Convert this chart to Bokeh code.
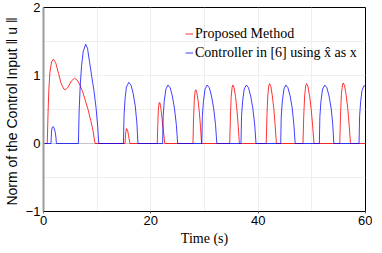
from bokeh.plotting import figure
from bokeh.models import Range1d, FixedTicker, Legend, LegendItem, Span
from bokeh.embed import file_html
from bokeh.resources import INLINE

# ---- data ----
red_t = [0.0, 0.7, 0.85, 1.0, 1.2, 1.5, 1.85, 2.3, 2.8, 3.3, 3.8, 4.1, 4.6, 5.2, 5.8,
         6.3, 6.8, 7.3, 7.8, 8.3, 8.8, 9.2, 9.6,
         15.2, 15.3, 15.45, 15.65, 15.85, 16.1,
         21.2, 21.3, 21.4, 21.55, 21.7, 21.9, 22.1, 22.35, 22.6,
         27.85, 27.96, 28.09, 28.25, 28.38, 28.57, 28.81, 29.05, 29.26, 29.45,
         34.7, 34.83, 34.97, 35.15, 35.29, 35.51, 35.78, 36.05, 36.28, 36.5,
         41.5, 41.63, 41.79, 41.98, 42.13, 42.36, 42.64, 42.93, 43.17, 43.4,
         48.35, 48.49, 48.66, 48.86, 49.03, 49.27, 49.58, 49.89, 50.15, 50.4,
         55.2, 55.34, 55.5, 55.7, 55.86, 56.1, 56.4, 56.7, 56.96, 57.2,
         60.0]
red_u = [0.0, 0.0, 0.45, 0.8, 1.05, 1.2, 1.24, 1.18, 1.03, 0.88, 0.8, 0.79, 0.83, 0.92, 0.96,
         0.93, 0.86, 0.76, 0.63, 0.5, 0.34, 0.2, 0.0,
         0.0, 0.14, 0.22, 0.2, 0.12, 0.0,
         0.0, 0.28, 0.5, 0.6, 0.6, 0.5, 0.36, 0.18, 0.0,
         0.0, 0.36, 0.63, 0.77, 0.79, 0.75, 0.63, 0.45, 0.24, 0.0,
         0.0, 0.39, 0.69, 0.83, 0.86, 0.82, 0.69, 0.49, 0.26, 0.0,
         0.0, 0.4, 0.7, 0.85, 0.88, 0.84, 0.7, 0.5, 0.26, 0.0,
         0.0, 0.4, 0.7, 0.85, 0.88, 0.84, 0.7, 0.5, 0.26, 0.0,
         0.0, 0.4, 0.71, 0.86, 0.89, 0.85, 0.71, 0.51, 0.27, 0.0,
         0.0]

blue_t = [0.0,
          1.4, 1.45, 1.5, 1.6, 1.75, 1.9, 2.05, 2.2, 2.32, 2.4,
          6.5, 6.65, 6.85, 7.1, 7.4, 7.85, 8.2, 8.6, 9.0, 9.4, 9.8, 10.1, 10.3,
          14.9, 15.0, 15.2, 15.45, 15.9, 16.3, 16.7, 17.1, 17.4, 17.6,
          22.2, 22.3, 22.5, 22.8, 23.2, 23.6, 24.0, 24.4, 24.75, 25.0,
          29.5, 29.6, 29.8, 30.1, 30.5, 30.9, 31.3, 31.7, 32.05, 32.3,
          36.8, 36.9, 37.1, 37.4, 37.8, 38.2, 38.6, 39.0, 39.35, 39.6,
          44.2, 44.3, 44.5, 44.8, 45.15, 45.55, 45.95, 46.35, 46.65, 46.9,
          51.4, 51.5, 51.7, 52.0, 52.4, 52.8, 53.2, 53.6, 53.9, 54.1,
          58.8, 58.9, 59.1, 59.35, 59.7, 60.0]
blue_u = [0.0,
          0.0, 0.11, 0.18, 0.23, 0.25, 0.24, 0.21, 0.16, 0.09, 0.0,
          0.0, 0.5, 0.86, 1.15, 1.35, 1.46, 1.4, 1.19, 0.98, 0.78, 0.52, 0.25, 0.0,
          0.0, 0.4, 0.66, 0.83, 0.9, 0.86, 0.74, 0.55, 0.3, 0.0,
          0.0, 0.4, 0.62, 0.8, 0.86, 0.82, 0.7, 0.52, 0.28, 0.0,
          0.0, 0.4, 0.62, 0.8, 0.86, 0.82, 0.7, 0.52, 0.28, 0.0,
          0.0, 0.4, 0.62, 0.8, 0.86, 0.82, 0.7, 0.52, 0.28, 0.0,
          0.0, 0.4, 0.62, 0.8, 0.86, 0.82, 0.7, 0.52, 0.28, 0.0,
          0.0, 0.4, 0.62, 0.8, 0.86, 0.82, 0.7, 0.52, 0.28, 0.0,
          0.0, 0.4, 0.62, 0.78, 0.85, 0.84]

x_ticks = [0, 20, 40, 60]
y_ticks = [-1, 0, 1, 2]
x_grid = [10, 20, 30, 40, 50]
y_grid = [-0.5, 0.5, 1.0, 1.5]
legend_labels = ["Proposed Method", "Controller in [6] using x\u0302 as x"]
x_label = "Time (s)"
y_label = "Norm of the Control Input  \u2016 u \u2016"

SANS = "Liberation Sans"
SERIF = "Liberation Serif"

p = figure(frame_width=322, frame_height=204, output_backend="svg", toolbar_location=None,
           x_range=Range1d(0, 60), y_range=Range1d(-1, 2),
           min_border_left=0, min_border_right=7, min_border_top=7, min_border_bottom=0)
p.background_fill_color = "white"
p.border_fill_color = "white"
p.outline_line_color = "black"
p.outline_line_width = 1

p.xaxis.ticker = FixedTicker(ticks=x_ticks)
p.yaxis.ticker = FixedTicker(ticks=y_ticks)
p.xgrid.ticker = FixedTicker(ticks=x_grid)
p.ygrid.ticker = FixedTicker(ticks=y_grid)
p.grid.grid_line_color = "#eeeeee"
p.grid.grid_line_width = 1

for ax in (p.xaxis, p.yaxis):
    ax.minor_tick_line_color = None
    ax.major_label_text_font = SANS
    ax.major_label_text_font_size = "13px"
    ax.major_label_text_color = "black"
    ax.axis_label_text_color = "black"
    ax.axis_label_text_font_style = "normal"

p.xaxis.axis_label = x_label
p.xaxis.axis_label_text_font = SERIF
p.xaxis.axis_label_text_font_size = "14px"
p.xaxis.axis_label_standoff = 3
p.xaxis.axis_line_color = "black"
p.xaxis.major_tick_in = 0
p.xaxis.major_tick_out = 2
p.xaxis.major_tick_line_color = "#666666"
p.xaxis.major_label_standoff = 2

p.yaxis.axis_label = y_label
p.yaxis.axis_label_text_font = SANS
p.yaxis.axis_label_text_font_size = "14px"
p.yaxis.axis_label_standoff = 3
p.yaxis.axis_line_color = "#9a9a9a"
p.yaxis.axis_line_width = 2
p.yaxis.major_tick_line_color = None
p.yaxis.major_tick_out = 0
p.yaxis.major_tick_in = 0
p.yaxis.major_label_standoff = 3
p.yaxis.major_label_overrides = {-1: "\u22121"}

zero = Span(location=0, dimension="width", line_color="#c4c4c4", line_width=1, level="underlay")
p.add_layout(zero)

r_red = p.line(red_t, red_u, line_color="#ff0000", line_alpha=0.8, line_width=1)
r_blue = p.line(blue_t, blue_u, line_color="#0000ff", line_alpha=0.75, line_width=1)

legend = Legend(items=[LegendItem(label=legend_labels[0], renderers=[r_red]),
                       LegendItem(label=legend_labels[1], renderers=[r_blue])],
                location=(142, 149), padding=0, margin=0, spacing=0,
                glyph_width=8, glyph_height=19, label_height=19, label_standoff=2,
                border_line_color=None, background_fill_alpha=0,
                label_text_font=SERIF, label_text_font_size="14px", label_text_color="black")
p.add_layout(legend)

open("out.html", "w").write(file_html(p, INLINE))
